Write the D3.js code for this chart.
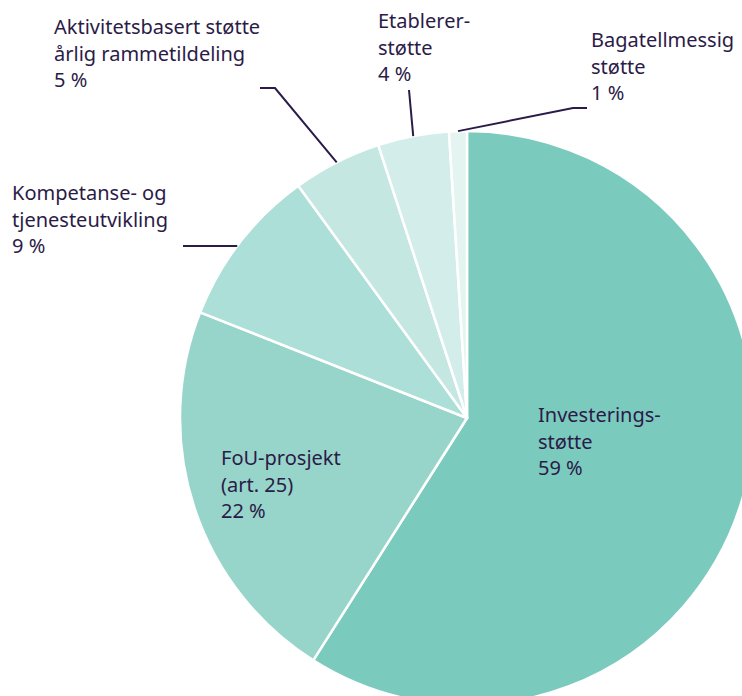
<!DOCTYPE html>
<html>
<head>
<meta charset="utf-8">
<script src="https://cdn.jsdelivr.net/npm/d3@7"></script>
<style>
  html, body { margin: 0; padding: 0; background: #fff; }
  svg { display: block; }
  text { font-family: "Noto Sans", sans-serif; font-size: 20px; fill: #2b1b48; }
</style>
</head>
<body>
<svg id="chart" width="742" height="696"></svg>
<script>
// data, clockwise from 12 o'clock
var categories = ["Investeringsstøtte", "FoU-prosjekt (art. 25)", "Kompetanse- og tjenesteutvikling",
  "Aktivitetsbasert støtte årlig rammetildeling", "Etablererstøtte", "Bagatellmessig støtte"];
var shares = [59, 22, 9, 5, 4, 1];
var labelLines = [
  ["Investerings-", "støtte", "59 %"],
  ["FoU-prosjekt", "(art. 25)", "22 %"],
  ["Kompetanse- og", "tjenesteutvikling", "9 %"],
  ["Aktivitetsbasert støtte", "årlig rammetildeling", "5 %"],
  ["Etablerer-", "støtte", "4 %"],
  ["Bagatellmessig", "støtte", "1 %"]
];
var colors = ["#7bcabe", "#97d5ca", "#acdfd7", "#c4e7e1", "#d3eeea", "#e4f4f1"];

var svg = d3.select("#chart");
var cx = 467, cy = 418, radius = 287;

var pie = d3.pie().sort(null).value(function (d) { return d; });
var arc = d3.arc().innerRadius(0).outerRadius(radius);
var arcs = pie(shares);

var g = svg.append("g").attr("transform", "translate(" + cx + "," + cy + ")");
g.selectAll("path.slice")
  .data(arcs)
  .enter()
  .append("path")
  .attr("class", "slice")
  .attr("d", arc)
  .attr("fill", function (d, i) { return colors[i]; })
  .attr("stroke", "#fff")
  .attr("stroke-width", 2.5)
  .attr("stroke-linejoin", "round");

// label placement (layout only): x, first baseline, and leader elbow/end points
var labelLayout = [
  { x: 538, y: 422, inside: true },
  { x: 221, y: 465, inside: true },
  { x: 12, y: 200, level: 246, leader: [[183, 246]] },
  { x: 54, y: 34, leader: [[275, 88], [260, 88]] },
  { x: 378, y: 28, leader: [[409, 90]] },
  { x: 591, y: 47, leader: [[573, 108], [587, 108]] }
];
var lineGap = 26.5;

// leader lines start on the slice edge, at the slice's middle angle
// (or where a horizontal leader meets the rim)
var edge = d3.arc().innerRadius(radius).outerRadius(radius);
var leader = d3.line();
arcs.forEach(function (d, i) {
  var lay = labelLayout[i];
  if (!lay.leader) return;
  var c = edge.centroid(d);
  var start = [c[0] + cx, c[1] + cy];
  if (lay.level != null) {
    var dy = lay.level - cy;
    start = [cx - Math.sqrt(radius * radius - dy * dy), lay.level];
  }
  svg.append("path")
    .attr("d", leader([start].concat(lay.leader)))
    .attr("fill", "none")
    .attr("stroke", "#2b1b48")
    .attr("stroke-width", 2);
});

svg.selectAll("text.label")
  .data(arcs)
  .enter()
  .append("text")
  .attr("class", "label")
  .each(function (d, i) {
    var lay = labelLayout[i];
    d3.select(this).selectAll("tspan")
      .data(labelLines[i])
      .enter()
      .append("tspan")
      .attr("x", lay.x)
      .attr("y", function (t, j) { return lay.y + j * lineGap; })
      .text(function (t) { return t; });
  });
</script>
</body>
</html>
